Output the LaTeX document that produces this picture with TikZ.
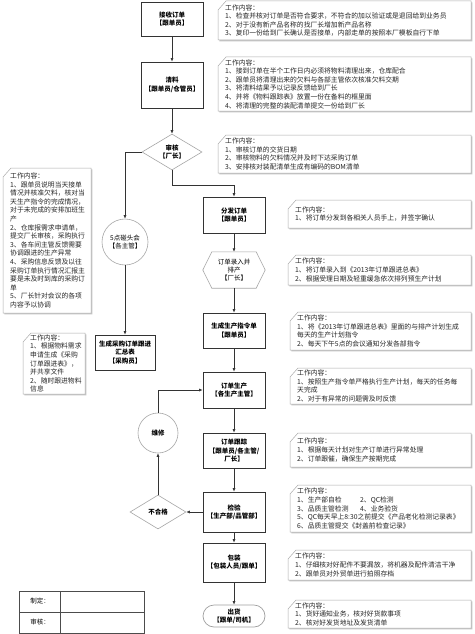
\documentclass[tikz,border=0pt]{standalone}
\usepackage{fontspec}
\setmainfont{Noto Sans CJK SC}
\usetikzlibrary{arrows.meta,shapes.geometric}

% work content box: name, x0, y0, x1, y1, text
\newcommand{\workbox}[6]{%
  \fill[gray!45,xshift=1.4pt,yshift=-1.4pt] (#2,#3+9) -- (#2+8,#3) -- (#4,#3) -- (#4,#5) -- (#2,#5) -- cycle;
  \filldraw[fill=white,draw=gray!65,line width=0.5pt] (#2,#3+9) -- (#2+8,#3) -- (#4,#3) -- (#4,#5) -- (#2,#5) -- cycle;
  \node[worktext] (#1) at ({#2+7},{(#3+#5)/2}) {#6};
}

\begin{document}
\begin{tikzpicture}[x=1pt,y=-1pt,
  worktext/.style={anchor=west,align=left,inner sep=0pt,text=black!85,font=\fontsize{6.8}{8.6}\selectfont},
  proc/.style={draw=black!80,line width=0.7pt,fill=white,minimum width=62pt,align=center,inner sep=1pt,font=\fontsize{6.5}{8.4}\selectfont\bfseries},
  soft/.style={draw=gray!70,line width=0.6pt,fill=white,align=center,inner sep=0pt,font=\fontsize{6.5}{8.4}\selectfont},
  flow/.style={draw=black!80,line width=0.6pt,-{Latex[length=3.5pt,width=3pt]}}
]
\fill[white] (0,0) rectangle (474,634);
\useasboundingbox (0,0) rectangle (474,634);

% Top column
\node[proc,minimum height=34pt] (recv) at (172,19) {接收订单\\【跟单员】};
\node[proc,minimum height=46pt] (qingliao) at (172,85) {清料\\【跟单员/仓管员】};
\node[soft,diamond,aspect=1.67,minimum width=60pt,minimum height=36pt,font=\fontsize{6.5}{8.4}\selectfont\bfseries] (shenhe) at (172,152) {审核\\【厂长】};

% Meeting branch
\node[soft,circle,minimum size=46pt] (meet) at (125,242) {5点碰头会\\【各主管】};
\node[proc,minimum width=60pt,minimum height=35pt] (caigou) at (125,352.5) {生成采购订单跟进\\汇总表\\【采购员】};

% Main column
\node[proc,minimum height=36pt] (fenfa) at (234,215) {分发订单\\【跟单员】};
\node[minimum width=62pt,minimum height=36pt,align=center,inner sep=0pt,font=\fontsize{6.5}{8.4}\selectfont] (luru) at (234,270) {订单录入并\\排产\\【厂长】};
\draw[gray!70,line width=0.6pt] (luru.west) -- ([xshift=9pt]luru.north west) -- ([xshift=-9pt]luru.north east) -- (luru.east) -- ([xshift=-9pt]luru.south east) -- ([xshift=9pt]luru.south west) -- cycle;
\node[proc,minimum height=35pt] (zhiling) at (234,330.5) {生成生产指令单\\【跟单员】};
\node[proc,minimum height=36pt] (shengchan) at (234,390) {订单生产\\【各生产主管】};
\node[proc,minimum height=35pt] (genzong) at (234,450.5) {订单跟踪\\【跟单员/各主管/\\厂长】};
\node[proc,minimum height=40pt] (jianyan) at (234,512) {检验\\【生产部/品管部】};
\node[proc,minimum height=39pt] (baozhuang) at (234,562.5) {包装\\【包装人员/跟单】};
\node[proc,draw=gray!75,rounded corners=11pt,minimum height=22pt] (chuhuo) at (234,616) {出货\\【跟单/司机】};

% Rework loop
\node[soft,circle,minimum size=40pt,font=\fontsize{6.5}{8.4}\selectfont\bfseries] (weixiu) at (158,433) {维修};
\node[soft,diamond,aspect=1.65,minimum width=56pt,minimum height=34pt,font=\fontsize{6.5}{8.4}\selectfont\bfseries] (buhege) at (158,512) {不合格};

% Connectors
\draw[flow] (recv) -- (qingliao);
\draw[flow] (qingliao) -- (shenhe);
\draw[flow] (shenhe.south) -- ++(0,15) -| (fenfa.north);
\draw[flow] (shenhe.west) -| (meet.north);
\draw[flow] (meet) -- (caigou);
\draw[flow] (fenfa) -- (luru);
\draw[flow] (luru) -- (zhiling);
\draw[flow] (zhiling) -- (shengchan);
\draw[flow] (shengchan) -- (genzong);
\draw[flow] (genzong) -- (jianyan);
\draw[flow] (jianyan) -- (buhege);
\draw[flow] (buhege) -- (weixiu);
\draw[flow] (weixiu.north) |- (shengchan.west);
\draw[flow] (jianyan) -- (baozhuang);
\draw[flow] (baozhuang) -- (chuhuo);

% Work content
\workbox{w1}{218}{1}{471}{40}{工作内容：\\1、检查并核对订单是否符合要求，不符合的加以验证或是退回给到业务员\\2、对于没有新产品名称的找厂长增加新产品名称\\3、复印一份给到厂长确认是否接单，内部走单的按照本厂模板自行下单}
\workbox{w2}{218}{57}{471}{111}{工作内容：\\1、接到订单在半个工作日内必须将物料清理出来，仓库配合\\2、跟单员将清理出来的欠料与各部主管依次核准欠料交期\\3、将清料结果予以记录反馈给到厂长\\4、并将《物料跟踪表》放置一份在备料的框里面\\4、将清理的完整的装配清单提交一份给到厂长}
\workbox{w3}{218}{135}{471}{173}{工作内容：\\1、审核订单的交货日期\\2、审核物料的欠料情况并及时下达采购订单\\3、安排核对装配清单生成有编码的BOM清单}
\workbox{wmeet}{3}{168}{91}{313}{工作内容：\\1、跟单员说明当天接单\\情况并核准欠料，核对当\\天生产指令的完成情况，\\对于未完成的安排加班生\\产\\2、仓库报需求申请单，\\提交厂长审核，采购执行\\3、各车间主管反馈需要\\协调跟进的生产异常\\4、采购信息反馈及以往\\采购订单执行情况汇报主\\要是未及时到库的采购订\\单\\5、厂长针对会议的各项\\内容予以协调}
\workbox{wcaigou}{23}{333}{85}{394}{工作内容：\\1、根据物料需求\\申请生成《采购\\订单跟进表》，\\并共享文件\\2、随时跟进物料\\信息}
\workbox{w4}{288}{200}{471}{228}{工作内容：\\1、将订单分发到各相关人员手上，并签字确认}
\workbox{w5}{288}{255}{471}{285}{工作内容：\\1、将订单录入到《2013年订单跟进总表》\\2、根据受理日期及轻重缓急依次排列预生产计划}
\workbox{w6}{290}{312}{471}{350}{工作内容：\\1、将《2013年订单跟进总表》里面的与排产计划生成\\每天的生产计划指令\\2、每天下午5点的会议通知分发各部指令}
\workbox{w7}{290}{368}{471}{404}{工作内容：\\1、按照生产指令单严格执行生产计划，每天的任务每\\天完成\\2、对于有异常的问题需及时反馈}
\workbox{w8}{290}{433}{471}{467}{工作内容：\\1、根据每天计划对生产订单进行异常处理\\2、订单跟催，确保生产按期完成}
\workbox{w9}{290}{485}{471}{532}{工作内容：\\\makebox[63pt][l]{1、生产部自检}2、QC检测\\\makebox[63pt][l]{3、品质主管检测}4、业务验货\\5、QC每天早上8:30之前提交《产品老化检测记录表》\\6、品质主管提交《封盖前检查记录》}
\workbox{w10}{288}{550}{471}{580}{工作内容：\\1、仔细核对好配件不要漏放，将机器及配件清洁干净\\2、跟单员对外贸单进行拍照存档}
\workbox{w11}{288}{600}{471}{628}{工作内容：\\1、货好通知业务，核对好货款事项\\2、核对好发货地址及发货清单}

% Sign-off table
\draw[black!70,line width=0.6pt] (19,591) rectangle (144,633);
\draw[black!70,line width=0.6pt] (19,612) -- (144,612);
\draw[black!70,line width=0.6pt] (60,591) -- (60,633);
\node[font=\fontsize{6.5}{8}\selectfont] (zhiding) at (40,601.5) {制定：};
\node[font=\fontsize{6.5}{8}\selectfont] (shenpi) at (40,622.5) {审核：};
\end{tikzpicture}
\end{document}
